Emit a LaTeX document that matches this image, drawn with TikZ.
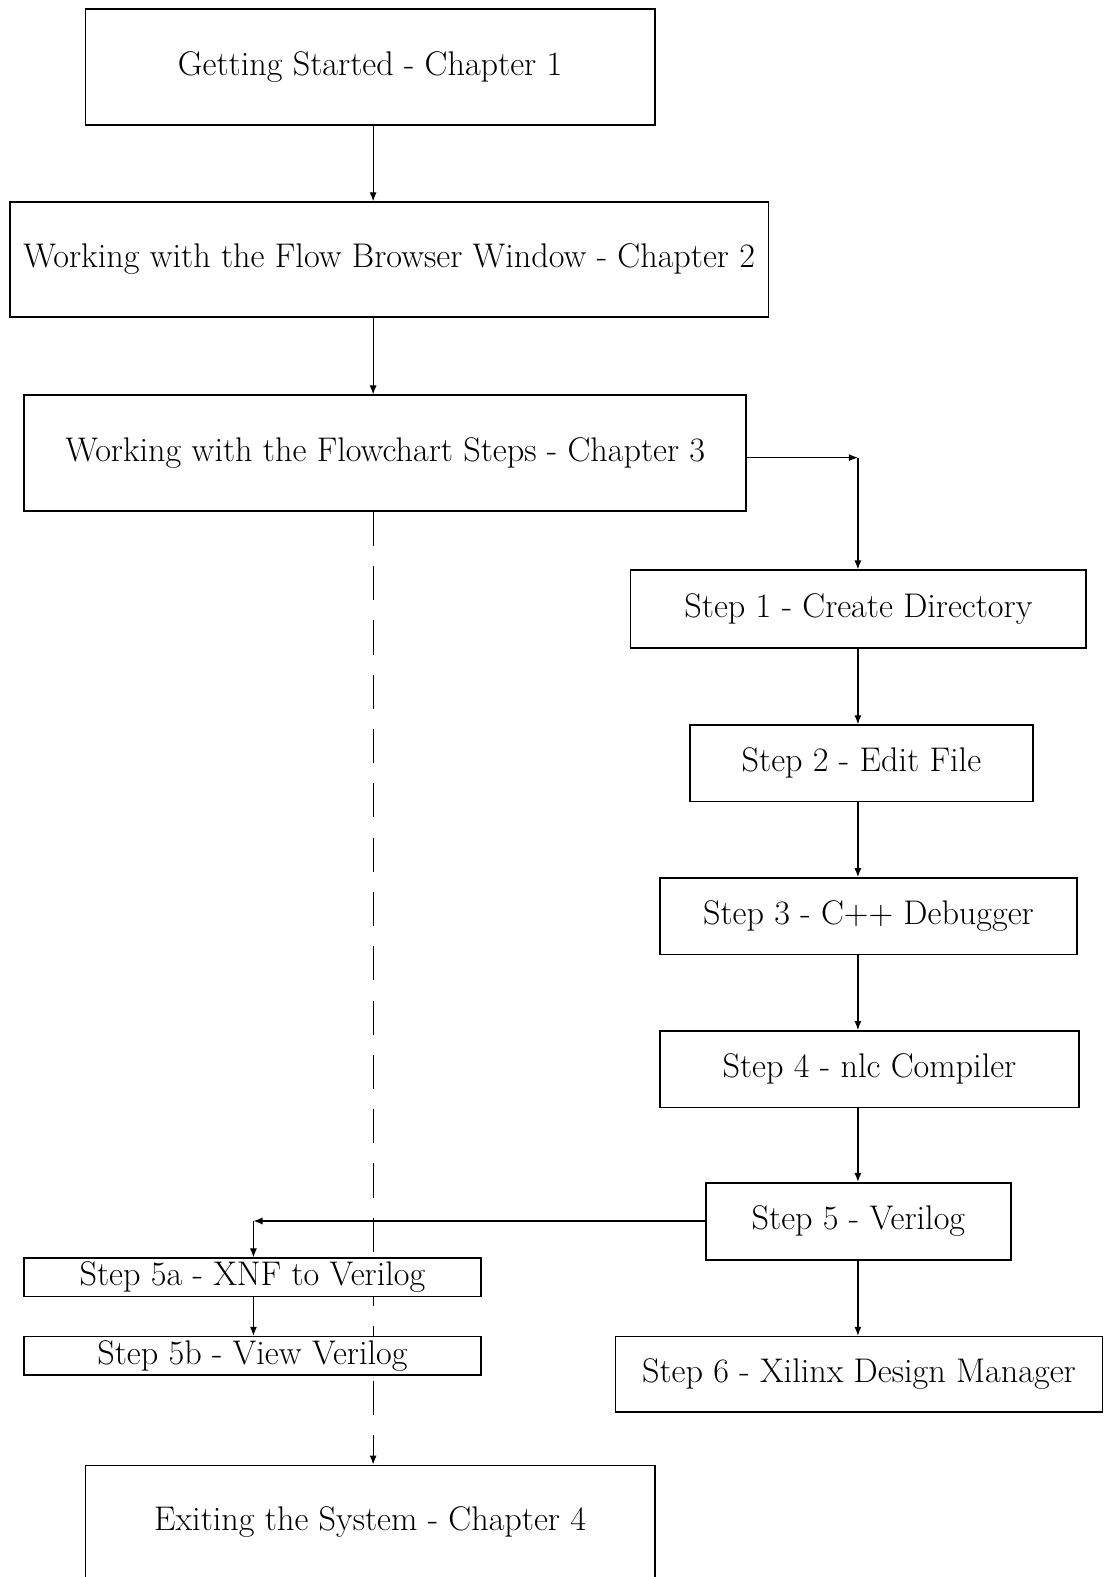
\documentclass[tikz,border=0pt]{standalone}
\usetikzlibrary{arrows.meta}
\begin{document}
\begin{tikzpicture}[x=0.5pt,y=-0.5pt,
  box/.style={draw,line width=0.8pt,fill=white,rectangle,inner sep=0pt,
    font=\fontsize{17}{20}\selectfont},
  link/.style={line width=0.6pt,-{Latex[length=4.5pt,width=3.5pt]}},
  dashlink/.style={link,dash pattern=on 17pt off 10pt}]
\clip (0,0) rectangle (1097,1568);
\useasboundingbox (0,0) rectangle (1097,1568);

% chapters down the left
\node[box,minimum width=283pt,minimum height=57.5pt] (ch1) at (368,66.5) {Getting Started - Chapter 1};
\node[box,minimum width=377pt,minimum height=57pt] (ch2) at (387,258) {Working with the Flow Browser Window - Chapter 2};
\node[box,minimum width=359pt,minimum height=57.5pt] (ch3) at (383,450.5) {Working with the Flowchart Steps - Chapter 3};
\node[box,minimum width=283pt,minimum height=56.5pt] (ch4) at (368,1513.5) {Exiting the System - Chapter 4};

% the flowchart steps
\node[box,minimum width=226.5pt,minimum height=38.5pt] (s1) at (853.5,605.5) {Step 1 - Create Directory};
\node[box,minimum width=170.5pt,minimum height=38pt] (s2) at (856.5,759) {Step 2 - Edit File};
\node[box,minimum width=207.5pt,minimum height=38pt] (s3) at (863.5,911) {Step 3 - C++ Debugger};
\node[box,minimum width=208.5pt,minimum height=38pt] (s4) at (864.5,1063) {Step 4 - nlc Compiler};
\node[box,minimum width=151.5pt,minimum height=38.5pt] (s5) at (853.5,1214.5) {Step 5 - Verilog};
\node[box,minimum width=242pt,minimum height=37.5pt] (s6) at (854,1366.5) {Step 6 - Xilinx Design Manager};

% routing points
\coordinate (spine) at (371,0);
\coordinate (stepcol) at (853,0);
\coordinate (c1) at (853,455);
\coordinate (c5) at (252,1214);

% main chapter flow
\draw[link] (ch1.south -| spine) -- (ch2.north -| spine);
\draw[link] (ch2.south -| spine) -- (ch3.north -| spine);
\draw[dashlink] (ch3.south -| spine) -- (ch4.north -| spine);

% sub-steps of step 5 (drawn over the dashed line)
\node[box,minimum width=227pt,minimum height=19pt] (s5a) at (251,1270) {Step 5a - XNF to Verilog};
\node[box,minimum width=227pt,minimum height=19pt] (s5b) at (251,1348) {Step 5b - View Verilog};

% step connectors
\draw[link] (c1 -| ch3.east) -- (c1);
\draw[link] (c1) -- (s1.north -| c1);
\draw[link] (s1.south -| stepcol) -- (s2.north -| stepcol);
\draw[link] (s2.south -| stepcol) -- (s3.north -| stepcol);
\draw[link] (s3.south -| stepcol) -- (s4.north -| stepcol);
\draw[link] (s4.south -| stepcol) -- (s5.north -| stepcol);
\draw[link] (s5.south -| stepcol) -- (s6.north -| stepcol);
\draw[link] (c5 -| s5.west) -- (c5);
\draw[link] (c5) -- (s5a.north -| c5);
\draw[link] (s5a.south -| c5) -- (s5b.north -| c5);
\end{tikzpicture}
\end{document}
